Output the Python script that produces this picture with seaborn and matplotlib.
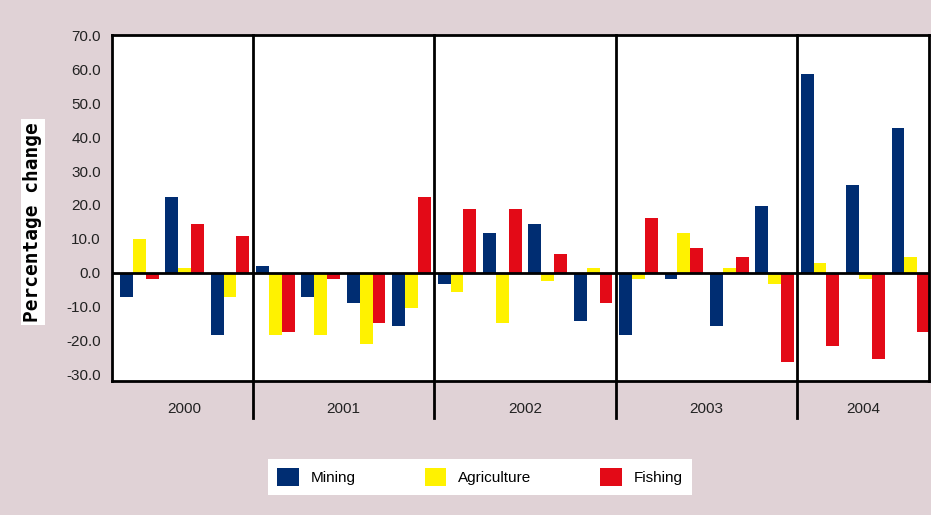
import pandas as pd
import numpy as np
import seaborn as sns
import matplotlib.pyplot as plt
from matplotlib.patches import Patch

years = ["2000", "2001", "2002", "2003", "2004"]
quarters_per_year = [3, 4, 4, 4, 3]
sectors = ["Mining", "Agriculture", "Fishing"]

mining = [-7.1, 22.4, -18.2,
          2.1, -7.1, -8.8, -15.8,
          -3.4, 11.8, 14.5, -14.1,
          -18.2, -1.7, -15.8, 19.8,
          58.7, 26.0, 42.8]
agriculture = [10.0, 1.5, -7.1,
               -18.2, -18.2, -21.1, -10.5,
               -5.8, -14.7, -2.3, 1.5,
               -1.7, 11.8, 1.5, -3.4,
               3.0, -1.7, 4.7]
fishing = [-1.7, 14.5, 10.9,
           -17.6, -1.7, -14.7, 22.4,
           18.9, 18.9, 5.6, -8.8,
           16.2, 7.4, 4.7, -26.2,
           -21.7, -25.3, -17.6]

colors = {"Mining": "#002d72", "Agriculture": "#fff200", "Fishing": "#e30a17"}
bg = "#e0d2d6"

n = len(mining)
df = pd.DataFrame({
    "period": list(range(n)) * 3,
    "sector": ["Mining"] * n + ["Agriculture"] * n + ["Fishing"] * n,
    "value": mining + agriculture + fishing,
})

plt.rcParams['font.family'] = ['Liberation Sans', 'DejaVu Sans']
fig = plt.figure(figsize=(9.31, 5.15), dpi=100, facecolor=bg)
ax = fig.add_axes([112 / 931, 1 - 381 / 515, (929 - 112) / 931, 346 / 515])
ax.set_facecolor("white")

sns.barplot(data=df, x="period", y="value", hue="sector", hue_order=sectors,
            palette=colors, width=0.85, saturation=1, dodge=True,
            native_scale=True, legend=False, ax=ax, errorbar=None)

ax.set_xlim(-0.6, n - 0.6)
ax.set_ylim(-31.9, 70.1)
ax.set_yticks(np.arange(-30, 71, 10))
ax.set_yticklabels([f"{v:.1f}" for v in np.arange(-30, 71, 10)], fontsize=11, color="#222222")
ax.set_xticks([])
ax.set_xlabel("")
ax.set_ylabel("")
ax.tick_params(axis="y", length=0, pad=8)
for s in ax.spines.values():
    s.set_color("black")
    s.set_linewidth(2)
ax.axhline(0, color="black", lw=2)

# year separators and labels
edges = np.cumsum([0] + quarters_per_year) - 0.5
trans = ax.get_xaxis_transform()
for e in edges[1:-1]:
    ax.plot([e, e], [1, -0.107], color="black", lw=2, transform=trans, clip_on=False)
for i, y in enumerate(years):
    left = max(edges[i], -0.6)
    right = min(edges[i + 1], n - 0.6)
    ax.text((left + right) / 2, -0.081, y, transform=trans, ha="center", va="center",
            fontsize=11, color="#222222")

fig.text(33 / 931, 1 - 222 / 515, "Percentage change", rotation=90, ha="center", va="center",
         family="DejaVu Sans Mono", fontweight="bold", fontsize=14,
         bbox=dict(facecolor="white", edgecolor="none", pad=2))

handles = [Patch(facecolor=colors[s], edgecolor="none") for s in sectors]
leg = fig.legend(handles, sectors, loc="center", bbox_to_anchor=(480 / 931, 1 - 477 / 515),
                 ncol=3, frameon=True, fancybox=False, fontsize=11, columnspacing=4.5,
                 handlelength=1.4, handleheight=1.4, handletextpad=0.8, borderpad=0.6,
                 framealpha=1)
leg.get_frame().set_facecolor("white")
leg.get_frame().set_edgecolor("none")

fig.savefig("out.png", dpi=100, facecolor=bg)
